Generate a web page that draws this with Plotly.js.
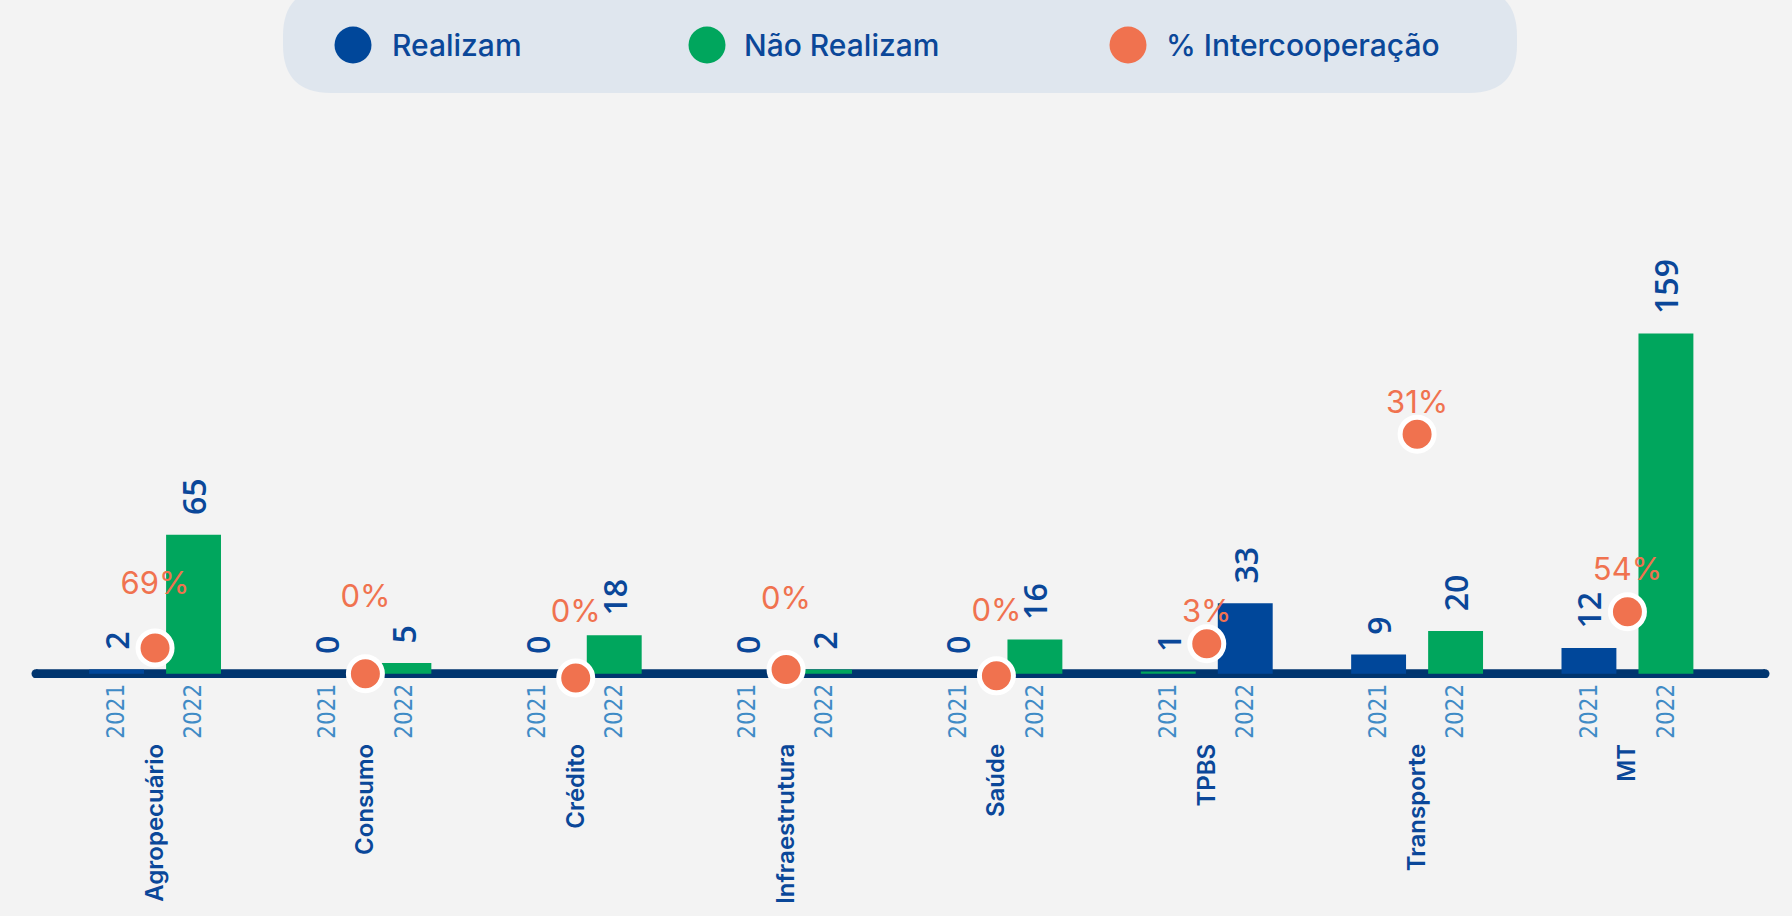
<!DOCTYPE html>
<html>
<head>
<meta charset="utf-8">
<script src="https://cdn.plot.ly/plotly-3.0.1.min.js"></script>
<style>
  html, body { margin: 0; padding: 0; background: #f3f3f3; }
  #chart { width: 1792px; height: 916px; }
</style>
</head>
<body>
<div id="chart"></div>
<script>
// ---------- data ----------
const categories = ['Agropecuário', 'Consumo', 'Crédito', 'Infraestrutura', 'Saúde', 'TPBS', 'Transporte', 'MT'];
const years = ['2021', '2022'];
const values2021 = [2, 0, 0, 0, 0, 1, 9, 12];
const values2022 = [65, 5, 18, 2, 16, 33, 20, 159];
const series2021 = ['Realizam', 'Realizam', 'Realizam', 'Realizam', 'Realizam', 'Não Realizam', 'Realizam', 'Realizam'];
const series2022 = ['Não Realizam', 'Não Realizam', 'Não Realizam', 'Não Realizam', 'Não Realizam', 'Realizam', 'Não Realizam', 'Não Realizam'];
const pctIntercoop = [69, 0, 0, 0, 0, 3, 31, 54];
const pctMarkerLevel = [12, 0, -2, 2, -1, 14, 112, 29];
const seriesNames = ['Realizam', 'Não Realizam', '% Intercooperação'];

// ---------- styles ----------
const colors = { 'Realizam': '#00479a', 'Não Realizam': '#00a65d', '% Intercooperação': '#f0724f' };
const textBlue = '#0a4799';
const yearBlue = '#3f8bc6';
const navy = '#00356f';
const bg = '#f3f3f3';
const mainFont = 'Inter, "Open Sans", sans-serif';
const numFont = '"Open Sans", Inter, sans-serif';
// per-point label lift (size of the invisible marker that spaces each % label above its dot)
const pctLabelSpacer = [72, 92, 76, 82, 74, 21, 20, 36];

const halfGap = 0.183;
const barWidth = 0.261;
const idx = categories.map((c, i) => i);
const x2021 = idx.map(i => i - halfGap);
const x2022 = idx.map(i => i + halfGap);

const pad = '\u00a0\u00a0';
function barTrace(xs, vals, series, year) {
  return {
    type: 'bar',
    name: year,
    x: xs,
    y: vals,
    width: barWidth,
    marker: { color: series.map(s => colors[s]) },
    text: vals.map(v => pad + v),
    textposition: 'outside',
    textangle: -90,
    constraintext: 'none',
    cliponaxis: false,
    outsidetextfont: { family: numFont, size: 32, color: textBlue, weight: 600 },
    showlegend: false,
    hoverinfo: 'skip'
  };
}

const dots = {
  type: 'scatter',
  mode: 'markers',
  name: seriesNames[2],
  xaxis: 'x2',
  yaxis: 'y',
  x: idx,
  y: pctMarkerLevel,
  marker: { size: 34, color: colors['% Intercooperação'], line: { color: '#ffffff', width: 5 } },
  cliponaxis: false,
  showlegend: false,
  hoverinfo: 'skip'
};

const pctLabels = {
  type: 'scatter',
  mode: 'markers+text',
  xaxis: 'x2',
  yaxis: 'y',
  x: idx,
  y: pctMarkerLevel,
  text: pctIntercoop.map(p => p + '%'),
  textposition: 'top center',
  textfont: { family: mainFont, size: 31, color: colors['% Intercooperação'] },
  marker: { size: pctLabelSpacer, color: 'rgba(0,0,0,0)', line: { width: 0 } },
  cliponaxis: false,
  showlegend: false,
  hoverinfo: 'skip'
};

// ---------- layout geometry ----------
const L = 36, R = 27, T = 140, B = 238;
const W = 1792 - L - R, H = 916 - T - B;
const px = x => (x - L) / W;
const py = y => (T + H - y) / H;
const xRange = [-0.566, 7.654];

// legend pill (custom)
const x0 = 283, x1 = 1517, y0 = -12, y1 = 93, r = 48;
const pill = `M ${px(x0 + r)},${py(y0)} L ${px(x1 - r)},${py(y0)} Q ${px(x1)},${py(y0)} ${px(x1)},${py(y0 + r)} ` +
  `L ${px(x1)},${py(y1 - r)} Q ${px(x1)},${py(y1)} ${px(x1 - r)},${py(y1)} L ${px(x0 + r)},${py(y1)} ` +
  `Q ${px(x0)},${py(y1)} ${px(x0)},${py(y1 - r)} L ${px(x0)},${py(y0 + r)} Q ${px(x0)},${py(y0)} ${px(x0 + r)},${py(y0)} Z`;

const legendCircleX = [353, 707, 1128];
const legendTextX = [390, 742, 1164];
const legendY = 45, legendD = 37;

const lineW = 9;
const shapes = [
  { type: 'path', path: pill, xref: 'paper', yref: 'paper', fillcolor: '#dfe6ee', line: { width: 0 }, layer: 'below' },
  // baseline with rounded caps
  { type: 'line', xref: 'paper', yref: 'y', x0: 0, x1: 1, y0: 0, y1: 0, line: { color: navy, width: lineW }, layer: 'below' },
  { type: 'circle', xref: 'paper', yref: 'y', xsizemode: 'pixel', ysizemode: 'pixel', xanchor: 0, yanchor: 0,
    x0: -lineW / 2, x1: lineW / 2, y0: -lineW / 2, y1: lineW / 2, fillcolor: navy, line: { width: 0 }, layer: 'below' },
  { type: 'circle', xref: 'paper', yref: 'y', xsizemode: 'pixel', ysizemode: 'pixel', xanchor: 1, yanchor: 0,
    x0: -lineW / 2, x1: lineW / 2, y0: -lineW / 2, y1: lineW / 2, fillcolor: navy, line: { width: 0 }, layer: 'below' }
];
const annotations = [];
seriesNames.forEach((name, k) => {
  shapes.push({
    type: 'circle', xref: 'paper', yref: 'paper',
    x0: px(legendCircleX[k] - legendD / 2), x1: px(legendCircleX[k] + legendD / 2),
    y0: py(legendY + legendD / 2), y1: py(legendY - legendD / 2),
    fillcolor: colors[name], line: { width: 0 }
  });
  annotations.push({
    xref: 'paper', yref: 'paper', x: px(legendTextX[k]), y: py(legendY),
    xanchor: 'left', yanchor: 'middle', showarrow: false, text: name,
    font: { family: mainFont, size: 30, color: textBlue, weight: 500 }
  });
});

const layout = {
  width: 1792, height: 916,
  margin: { l: L, r: R, t: T, b: B },
  paper_bgcolor: bg, plot_bgcolor: bg,
  barmode: 'overlay',
  showlegend: false,
  xaxis: {
    range: xRange, tickmode: 'array',
    tickvals: x2021.concat(x2022),
    ticktext: x2021.map(() => years[0]).concat(x2022.map(() => years[1])),
    tickangle: -90, ticks: '', showgrid: false, zeroline: false, showline: false,
    tickfont: { family: '"Liberation Sans Narrow", "DejaVu Sans Condensed", sans-serif', size: 24, color: yearBlue },
    fixedrange: true
  },
  xaxis2: {
    overlaying: 'x', anchor: 'y', side: 'bottom', range: xRange,
    tickmode: 'array', tickvals: idx, ticktext: categories,
    tickangle: -90, ticks: '', showgrid: false, zeroline: false, showline: false,
    ticklabelstandoff: 60,
    tickfont: { family: mainFont, size: 24, color: textBlue, weight: 600 },
    fixedrange: true
  },
  yaxis: {
    range: [-2, 249.5], showticklabels: false, showgrid: false, ticks: '',
    zeroline: false, showline: false, fixedrange: true
  },
  shapes: shapes,
  annotations: annotations
};

Plotly.newPlot('chart', [
  barTrace(x2021, values2021, series2021, years[0]),
  barTrace(x2022, values2022, series2022, years[1]),
  dots, pctLabels
], layout, { displayModeBar: false, staticPlot: true });
</script>
</body>
</html>
